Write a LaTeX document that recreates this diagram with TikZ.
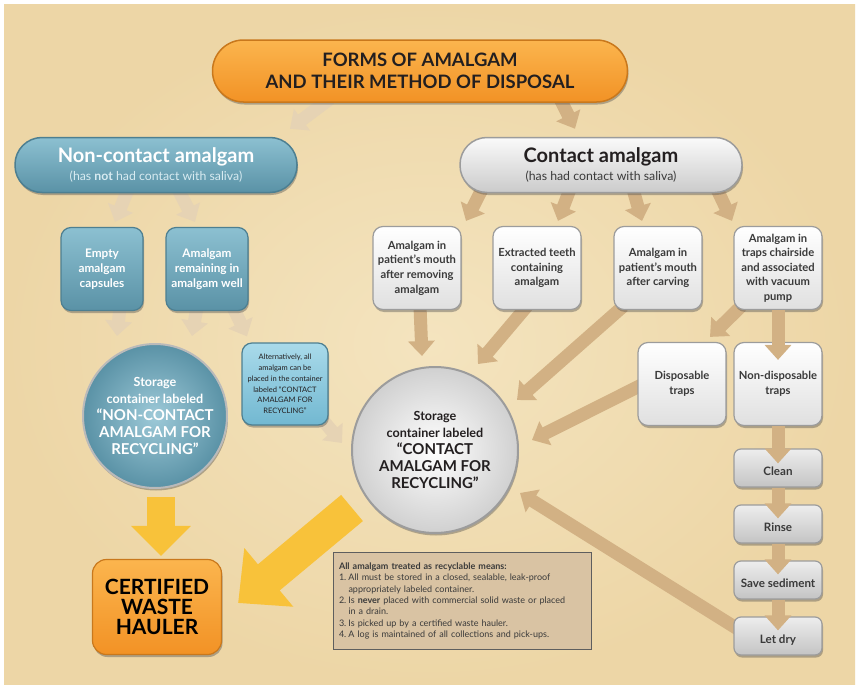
\documentclass[tikz,border=0pt]{standalone}
\usepackage{fontspec}
\setmainfont{Lato}
\usetikzlibrary{arrows.meta, calc, shadows, positioning}

\definecolor{parch}{HTML}{F0DCAF}
\definecolor{parchlight}{HTML}{F4E4BF}
\definecolor{parchdark}{HTML}{EDD6A6}
\definecolor{inkc}{HTML}{231F20}
\definecolor{orangetop}{HTML}{FBB54E}
\definecolor{orangebot}{HTML}{F29225}
\definecolor{orangeline}{HTML}{C9781C}
\definecolor{tealtop}{HTML}{8CC0D1}
\definecolor{tealbot}{HTML}{5A92A6}
\definecolor{tealline}{HTML}{4D7F91}
\definecolor{tealsub}{HTML}{D8EBF1}
\definecolor{skytop}{HTML}{A9DAEA}
\definecolor{skybot}{HTML}{72B8D1}
\definecolor{greytop}{HTML}{FAFAFA}
\definecolor{greybot}{HTML}{CBCBCB}
\definecolor{greyline}{HTML}{9C9C9C}
\definecolor{steptop}{HTML}{EDEDED}
\definecolor{stepbot}{HTML}{C4C4C4}
\definecolor{tanc}{HTML}{D2B184}
\definecolor{palec}{HTML}{E6D3B4}
\definecolor{yellowc}{HTML}{F8C23A}
\definecolor{notec}{HTML}{D9C3A3}
\definecolor{noteline}{HTML}{5E5E5E}
\definecolor{textgrey}{HTML}{3A3A3A}

\pgfdeclarelayer{paper}
\pgfdeclarelayer{back}
\pgfsetlayers{paper,back,main}

\tikzset{
  shadowed/.style={drop shadow={shadow xshift=1pt, shadow yshift=-2.5pt, opacity=.4, fill=black!70}},
  pill/.style={shadowed, line width=1.5pt, rounded corners=27pt, minimum width=282pt,
    minimum height=55pt, align=center, inner sep=0pt},
  tile/.style={shadowed, line width=1.2pt, rounded corners=10pt, minimum width=88pt,
    minimum height=83pt, align=center, inner sep=0pt, font=\fontsize{11.2}{14.6}\selectfont\bfseries},
  tealtile/.style={tile, minimum width=82pt, font=\fontsize{11.8}{15}\selectfont\bfseries,
    top color=tealtop, bottom color=tealbot, draw=tealline, text=white},
  whitetile/.style={tile, top color=white, bottom color=greybot!60, draw=greyline, text=textgrey},
  steptile/.style={tile, minimum height=38pt, rounded corners=7pt, text height=15pt, text depth=0pt,
    font=\fontsize{11.6}{14}\selectfont\bfseries,
    top color=steptop, bottom color=stepbot, draw=greyline, text=textgrey},
  store/.style={shadowed, circle, line width=2pt, align=center, inner sep=0pt,
    font=\fontsize{12.6}{17}\selectfont\bfseries},
  tanarrow/.style={draw=tanc, line width=13pt, -{Triangle[length=15pt, width=26pt]}},
  palearrow/.style={tanarrow, draw=palec},
  goldarrow/.style={draw=yellowc, line width=28pt, -{Triangle[length=30pt, width=58pt]}},
}

\begin{document}
\begin{tikzpicture}[x=1pt, y=-1pt]
\useasboundingbox (0,0) rectangle (860,688);
\begin{pgfonlayer}{paper}
  \fill[white] (0,0) rectangle (860,688);
  \shade[inner color=parchlight, outer color=parchdark] (4,4) rectangle (855,684);
\end{pgfonlayer}

% headings
\node[pill, minimum width=415pt, minimum height=62pt, rounded corners=31pt,
  top color=orangetop, bottom color=orangebot, draw=orangeline, text=inkc,
  font=\fontsize{18.5}{22}\selectfont\bfseries] (title) at (420,71)
  {FORMS OF AMALGAM\\AND THEIR METHOD OF DISPOSAL};
\node[pill, top color=tealtop, bottom color=tealbot, draw=tealline, text=white,
  font=\fontsize{12.3}{18}\selectfont] (noncontact) at (156,165)
  {{\fontsize{20}{20}\selectfont\bfseries Non-contact amalgam}\\
   {\color{tealsub}(has \textbf{not} had contact with saliva)}};
\node[pill, top color=greytop, bottom color=greybot, draw=greyline, text=inkc,
  font=\fontsize{12.3}{18}\selectfont] (contact) at (601,165)
  {{\fontsize{20}{20}\selectfont\bfseries Contact amalgam}\\
   {\color{textgrey}(has had contact with saliva)}};

% non-contact side
\node[tealtile] (capsules) at (102,269) {Empty\\amalgam\\capsules};
\node[tealtile] (well) at (207,269) {Amalgam\\remaining in\\amalgam well};
\node[store, minimum size=144pt, inner color=tealtop!85!white, outer color=tealbot,
  draw=greyline!70, text=white] (ncstore) at (155,416)
  {Storage\\container labeled\\{\fontsize{15}{17}\selectfont “NON-CONTACT}\\
   {\fontsize{15}{17}\selectfont AMALGAM FOR}\\{\fontsize{15}{17}\selectfont RECYCLING”}};
\node[tile, minimum width=86pt, minimum height=82pt, top color=skytop, bottom color=skybot,
  draw=tealline, text=inkc, font=\fontsize{7.5}{10.8}\selectfont] (alternative) at (285,384)
  {Alternatively, all\\amalgam can be\\placed in the container\\labeled “CONTACT\\AMALGAM FOR\\RECYCLING”};
\node[tile, minimum width=129pt, minimum height=95pt, rounded corners=14pt,
  top color=orangetop, bottom color=orangebot, draw=orangeline, text=black,
  font=\fontsize{21}{20}\selectfont\bfseries] (hauler) at (157,607) {CERTIFIED\\WASTE\\HAULER};

% contact side
\node[whitetile] (removing) at (417,268) {Amalgam in\\patient’s mouth\\after removing\\amalgam};
\node[whitetile] (teeth) at (537,268) {Extracted teeth\\containing\\amalgam};
\node[whitetile] (carving) at (658,268) {Amalgam in\\patient’s mouth\\after carving};
\node[whitetile] (traps) at (778,268) {Amalgam in\\traps chairside\\and associated\\with vacuum\\pump};
\node[whitetile] (disposable) at (682,384) {Disposable\\traps};
\node[whitetile] (nondisposable) at (778,384) {Non-disposable\\traps};
\node[steptile] (clean) at (778,468) {Clean};
\node[steptile] (rinse) at (778,524) {Rinse};
\node[steptile] (sediment) at (778,580) {Save sediment};
\node[steptile] (letdry) at (778,636) {Let dry};
\node[store, minimum size=166pt, inner color=white, outer color=greybot!90,
  draw=greyline, text=inkc] (cstore) at (435,450)
  {Storage\\container labeled\\{\fontsize{15}{17}\selectfont “CONTACT}\\
   {\fontsize{15}{17}\selectfont AMALGAM FOR}\\{\fontsize{15}{17}\selectfont RECYCLING”}};

\node[draw=noteline, line width=1pt, fill=notec, minimum width=258pt, minimum height=97pt,
  text width=246pt, align=left, inner xsep=6pt, text=textgrey,
  font=\fontsize{9}{11.3}\selectfont] (note) at (462,601)
  {\textbf{All amalgam treated as recyclable means:}\\
   \makebox[9.5pt][l]{1.}All must be stored in a closed, sealable, leak-proof\\
   \hspace*{9.5pt}appropriately labeled container.\\
   \makebox[9.5pt][l]{2.}Is \textbf{never} placed with commercial solid waste or placed\\
   \hspace*{9.5pt}in a drain.\\
   \makebox[9.5pt][l]{3.}Is picked up by a certified waste hauler.\\
   \makebox[9.5pt][l]{4.}A log is maintained of all collections and pick-ups.};

% arrows behind the boxes
\begin{pgfonlayer}{back}
  \draw[palearrow] ($(title.south)+(-90,-4)$) -- ($(noncontact.north)+(134,-8)$);
  \draw[tanarrow] ($(title.south)+(140,-4)$) -- ($(contact.north)+(-26,-8)$);
  \draw[palearrow] ($(noncontact.south)+(-28,-4)$) -- ($(capsules.north)+(13,-5)$);
  \draw[palearrow] ($(noncontact.south)+(22,-4)$) -- ($(well.north)+(-12,-5)$);
  \draw[palearrow] ($(capsules.south)+(18,-4)$) -- ($(ncstore.north)+(-38,-7)$);
  \draw[palearrow] ($(well.south)+(-10,-4)$) -- ($(ncstore.north)+(37,-7)$);
  \draw[palearrow] ($(well.south)+(26,-4)$) -- ($(alternative.north)+(-38,-6)$);
  \draw[palearrow] ($(alternative.south east)+(-8,-8)$) -- ($(cstore.west)+(-9,-7)$);
  \draw[tanarrow] ($(contact.south)+(-119,-4)$) -- ($(removing.north)+(49,-5)$);
  \draw[tanarrow] ($(contact.south)+(-31,-4)$) -- ($(teeth.north)+(21,-5)$);
  \draw[tanarrow] ($(contact.south)+(32,-4)$) -- ($(carving.north)+(-16,-5)$);
  \draw[tanarrow] ($(contact.south)+(116,-4)$) -- ($(traps.north)+(-46,-5)$);
  \draw[tanarrow] ($(removing.south)+(3,-4)$) -- ($(cstore.north)+(-13,-10)$);
  \draw[tanarrow] ($(teeth.south)+(-10,-4)$) -- ($(cstore.north)+(43,-2)$);
  \draw[tanarrow] ($(carving.south west)+(10,-4)$) -- ($(cstore.center)+(82,-50)$);
  \draw[tanarrow] ($(traps.south west)+(8,-4)$) -- ($(disposable.north)+(28,-5)$);
  \draw[tanarrow] ($(disposable.west)+(6,0)$) -- ($(cstore.center)+(97,-10)$);
  \draw[tanarrow] ($(letdry.west)+(6,-6)$) -- ($(cstore.center)+(85,43)$);
  \draw[goldarrow] ($(ncstore.south)+(6,8)$) -- ($(hauler.north)+(4,-3)$);
  \draw[goldarrow, line width=34pt, -{Triangle[length=40pt, width=74pt]}]
    ($(cstore.center)+(-83,58)$) -- ($(hauler.east)+(16,-4)$);
\end{pgfonlayer}

% arrows over the trap chain
\draw[tanarrow] (traps.south) -- ($(nondisposable.north)+(0,18)$);
\draw[tanarrow] (nondisposable.south) -- ($(clean.north)+(0,15)$);
\draw[tanarrow] (clean.south) -- ($(rinse.north)+(0,14)$);
\draw[tanarrow] (rinse.south) -- ($(sediment.north)+(0,14)$);
\draw[tanarrow] (sediment.south) -- ($(letdry.north)+(0,14)$);
\end{tikzpicture}
\end{document}
